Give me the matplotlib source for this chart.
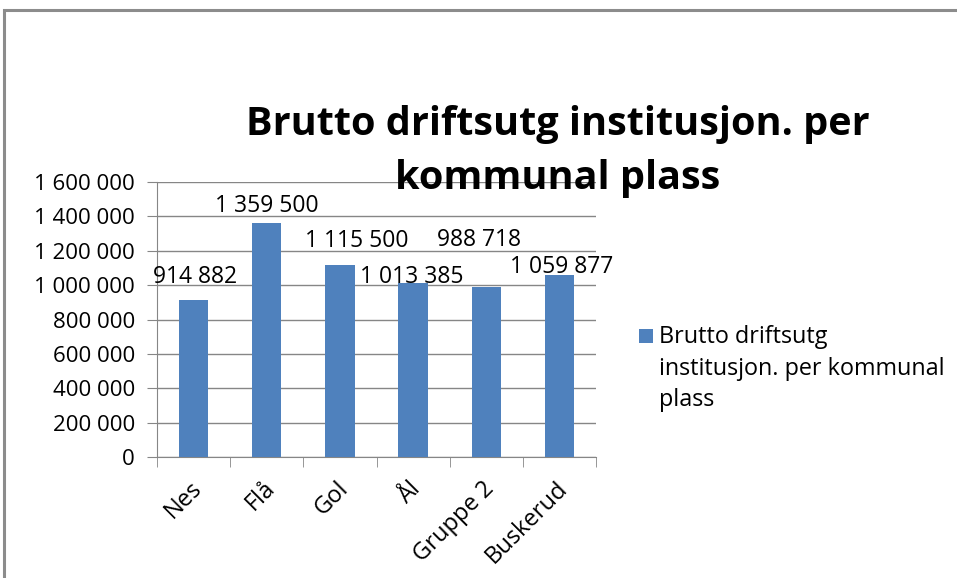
import matplotlib
matplotlib.use("Agg")
import matplotlib.pyplot as plt
from matplotlib.patches import Rectangle
from matplotlib.ticker import FuncFormatter, MultipleLocator, FixedLocator
import matplotlib.transforms as mtransforms
import numpy as np

categories = ["Nes", "Flå", "Gol", "Ål", "Gruppe 2", "Buskerud"]
values = [914882, 1359500, 1115500, 1013385, 988718, 1059877]
value_labels = ["914 882", "1 359 500", "1 115 500", "1 013 385", "988 718", "1 059 877"]
series_name = "Brutto driftsutg\ninstitusjon. per kommunal\nplass"
title = "Brutto driftsutg institusjon. per\nkommunal plass"

# label placement offsets (x in category units, y in value units) as drawn in the original
label_dx = [0.02, 0.0, 0.23, -0.02, -0.1, 0.03]
label_y = [1050000, 1460000, 1255000, 1050000, 1265000, 1105000]

BAR_COLOR = "#4F81BD"
FONT = ['Open Sans', 'DejaVu Sans']
plt.rcParams['font.family'] = FONT
fig = plt.figure(figsize=(9.57, 5.78), dpi=100)
fig.patch.set_facecolor("white")

# outer frame
fig.patches.append(Rectangle((4/957, -0.1), 1.2, (578-10)/578 + 0.1, transform=fig.transFigure,
                             fill=False, edgecolor="#8c8c8c", linewidth=2.2))

ax = fig.add_axes([157/957, (578-457)/578, (596-157)/957, (457-182)/578])
x = np.arange(len(categories))
bars = ax.bar(x, values, width=0.4, color=BAR_COLOR, zorder=3, label=series_name)
ax.set_xlim(-0.5, len(categories) - 0.5)
ax.set_ylim(0, 1600000)
ax.yaxis.set_major_locator(MultipleLocator(200000))
ax.yaxis.set_major_formatter(FuncFormatter(lambda v, p: f"{int(v):,}".replace(",", " ")))
ax.grid(axis="y", color="#868686", linewidth=1.0, zorder=0)
for s in ["top", "right"]:
    ax.spines[s].set_visible(False)
ax.spines["left"].set_color("#868686")
ax.spines["bottom"].set_color("#868686")
ax.tick_params(axis="y", length=7, color="#868686", labelsize=16, pad=9)
ax.set_xticks(x)
ax.set_xticklabels(categories, rotation=45, ha="right", rotation_mode="anchor", fontsize=17)
ax.tick_params(axis="x", which="major", length=0, pad=14)
shift = mtransforms.ScaledTranslation(-4/100, 0, fig.dpi_scale_trans)
for lbl in ax.get_xticklabels():
    lbl.set_transform(lbl.get_transform() + shift)
ax.xaxis.set_minor_locator(FixedLocator(np.arange(-0.5, len(categories), 1.0)))
ax.tick_params(axis="x", which="minor", length=7, color="#868686")

for i, (lab, dx, ly) in enumerate(zip(value_labels, label_dx, label_y)):
    ax.text(x[i] + dx, ly, lab, ha="center", va="center",
            fontsize=16.5, zorder=5, clip_on=False)

fig.text(558/957, 1 - 151/578, title, ha="center", va="center", fontsize=28.5,
         fontweight="bold", linespacing=1.5)

# legend (marker aligned with first text line, as in the original)
fig.patches.append(Rectangle((639/957, 1 - 343/578), 14/957, 14/578, transform=fig.transFigure,
                             facecolor=BAR_COLOR, edgecolor="none"))
fig.text(659/957, 1 - 325/578, series_name, ha="left", va="top", fontsize=16.8,
         linespacing=1.42)

fig.savefig("out.png", dpi=100)
